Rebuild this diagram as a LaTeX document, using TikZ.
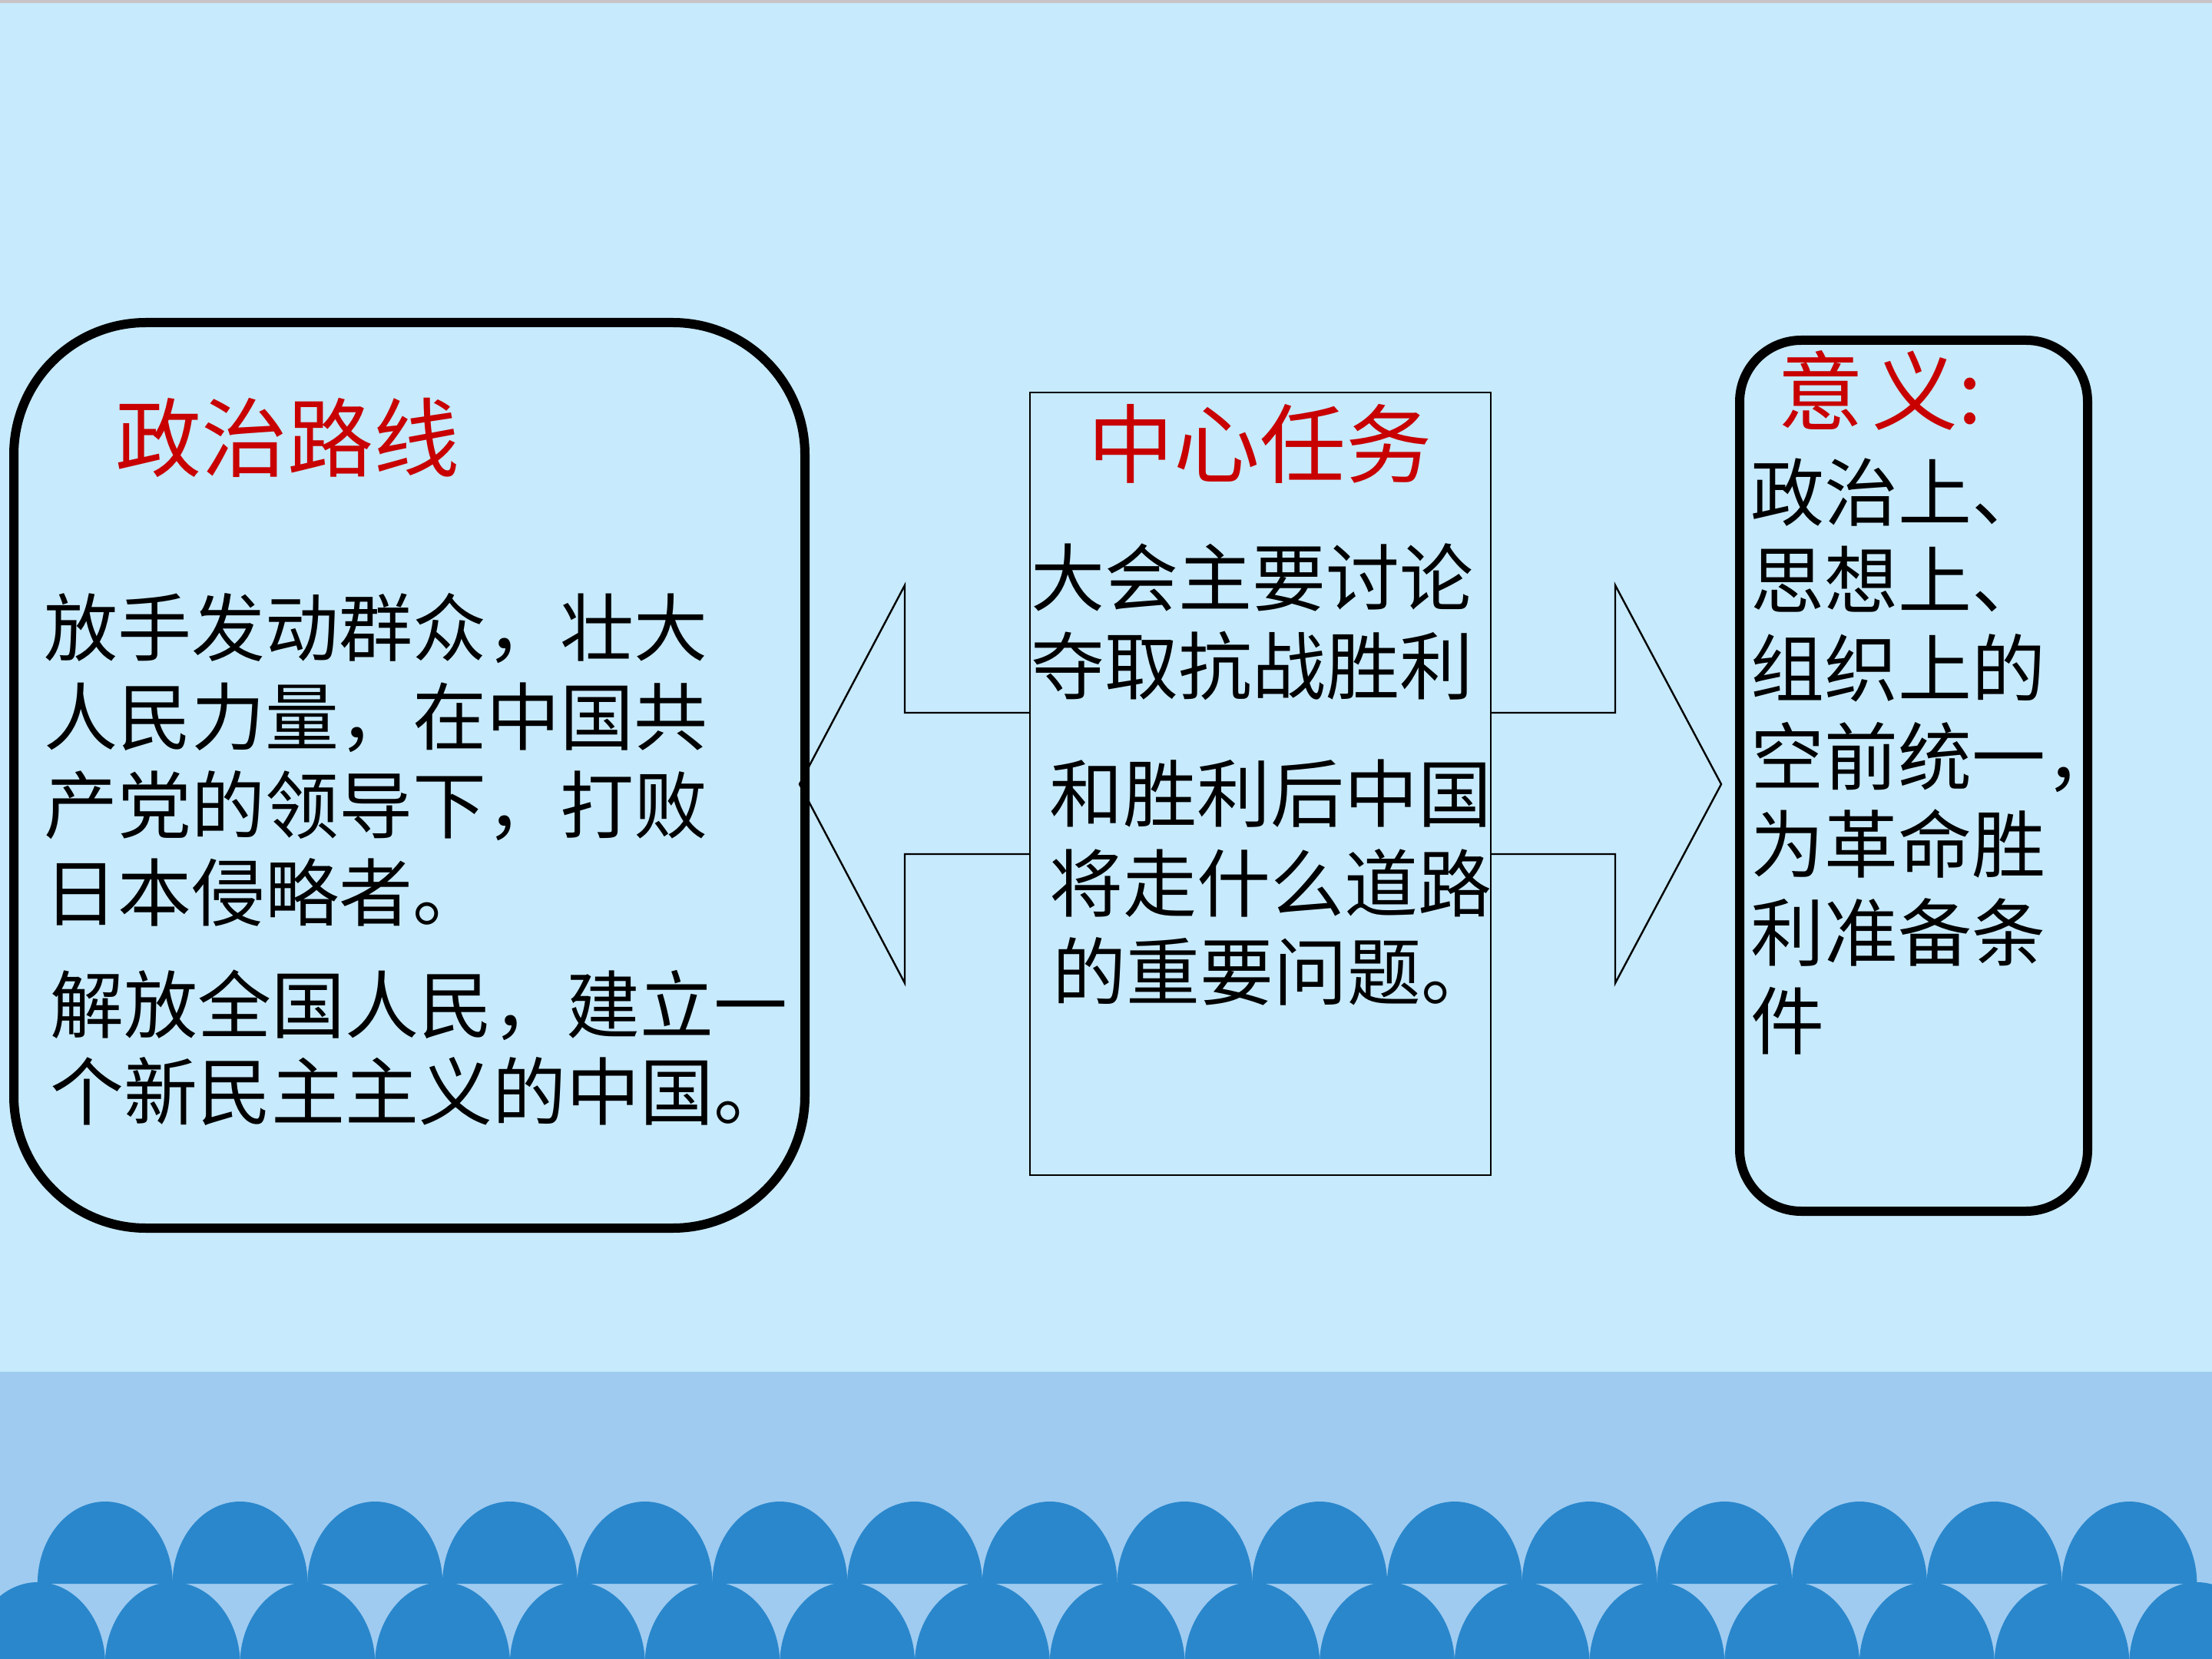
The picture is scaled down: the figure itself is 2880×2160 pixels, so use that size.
\documentclass[tikz,border=0pt]{standalone}
\usepackage{fontspec}
\setmainfont{Noto Sans CJK SC}
\definecolor{bgblue}{RGB}{199,234,252}
\definecolor{bandblue}{RGB}{159,203,240}
\definecolor{wave}{RGB}{42,135,204}
\definecolor{titlered}{RGB}{200,0,0}
\definecolor{topgrey}{RGB}{200,196,200}
\tikzset{
  bodytext/.style={anchor=base west, inner sep=0pt, font=\fontsize{24pt}{28pt}\selectfont},
  titletext/.style={anchor=base west, inner sep=0pt, text=titlered, font=\fontsize{28pt}{33pt}\selectfont},
  roundbox/.style={draw=black, line width=3pt, inner sep=0pt},
  thinline/.style={draw=black, line width=0.6pt, line join=miter},
}
\begin{document}
\begin{tikzpicture}[x=0.25pt,y=-0.25pt]
\useasboundingbox (0,0) rectangle (2880,2160);
\fill[bgblue] (0,0) rectangle (2880,2160);
\fill[topgrey] (0,0) rectangle (2880,4);
\fill[bandblue] (0,1786) rectangle (2880,2160);
\begin{scope}
\clip (0,0) rectangle (2880,2160);
% lower row of arches
\foreach \k in {0,...,16} {
  \pgfmathsetmacro\cx{49+175.7*\k}
  \fill[wave] (\cx-88,2167) .. controls (\cx-88,2108) and (\cx-48.6,2060) .. (\cx,2060)
     .. controls (\cx+48.6,2060) and (\cx+88,2108) .. (\cx+88,2167) -- cycle;
}
% upper row of arches
\foreach \k in {0,...,15} {
  \pgfmathsetmacro\cx{136.85+175.7*\k}
  \fill[wave] (\cx-88,2062) .. controls (\cx-88,2003) and (\cx-48.6,1955) .. (\cx,1955)
     .. controls (\cx+48.6,1955) and (\cx+88,2003) .. (\cx+88,2062) -- cycle;
}
\end{scope}

% boxes
\node[roundbox, rounded corners=43pt, minimum width=257.5pt, minimum height=294.75pt] (lbox) at (533,1009.5) {};
\node[roundbox, rounded corners=20pt, minimum width=113.25pt, minimum height=283.5pt] (rbox) at (2491.5,1010) {};
\node[draw=black, line width=0.6pt, inner sep=0pt, minimum width=150pt, minimum height=254.75pt] (cbox) at (1641,1020.5) {};

% block arrows
\draw[thinline] (1341,928) -- (1178,928) -- (1178,762) -- (1041,1021) -- (1178,1280) -- (1178,1112) -- (1341,1112);
\draw[thinline] (1941,928) -- (2103,928) -- (2103,762) -- (2241,1021) -- (2103,1280) -- (2103,1112) -- (1941,1112);

% left box text
\node[titletext] (lt) at (150,613) {政治路线};
\node[bodytext] (l1) at (57,854) {放手发动群众，壮大};
\node[bodytext] (l2) at (57,969) {人民力量，在中国共};
\node[bodytext] (l3) at (57,1084) {产党的领导下，打败};
\node[bodytext] (l4) at (57,1198) {日本侵略者。};
\node[bodytext] (l5) at (65,1344) {解放全国人民，建立一};
\node[bodytext] (l6) at (65,1457) {个新民主主义的中国。};

% center text
\node[titletext] (ct) at (1416,621) {中心任务};
\node[bodytext] (c1) at (1342,789) {大会主要讨论};
\node[bodytext] (c2) at (1342,903) {夺取抗战胜利};
\node[bodytext] (c3) at (1366,1069) {和胜利后中国};
\node[bodytext] (c4) at (1366,1186) {将走什么道路};
\node[bodytext] (c5) at (1370,1301) {的重要问题。};

% right box text
\node[titletext] (rt) at (2314,552) {意\hspace{2.75pt}义:};
\node[bodytext] (r1) at (2279,678) {政治上、};
\node[bodytext] (r2) at (2279,792) {思想上、};
\node[bodytext] (r3) at (2279,906) {组织上的};
\node[bodytext] (r4) at (2279,1021) {空前统一，};
\node[bodytext] (r5) at (2279,1135) {为革命胜};
\node[bodytext] (r6) at (2279,1250) {利准备条};
\node[bodytext] (r7) at (2279,1365) {件};
\end{tikzpicture}
\end{document}
